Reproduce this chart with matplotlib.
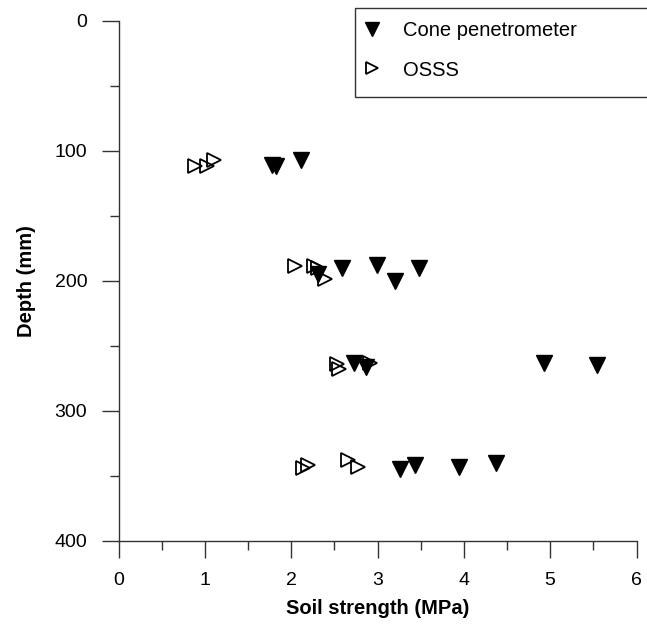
import matplotlib
matplotlib.use("Agg")
import matplotlib.pyplot as plt
from matplotlib.ticker import MultipleLocator
from matplotlib.lines import Line2D
from matplotlib.patches import Rectangle

plt.rcParams['font.family'] = ['Liberation Sans', 'DejaVu Sans']

# Cone penetrometer data (soil strength MPa, depth mm)
cone_x = [1.78, 1.82, 2.11,
          2.31, 2.59, 2.99, 3.20, 3.48,
          2.73, 2.87, 4.93, 5.54,
          3.26, 3.44, 3.94, 4.37]
cone_y = [111, 112, 107,
          195, 190, 188, 200, 190,
          263, 266, 263, 265,
          345, 342, 343, 340]

# OSSS data
osss_x = [0.89, 1.03, 1.11,
          2.04, 2.26, 2.31, 2.39,
          2.53, 2.55, 2.91,
          2.14, 2.19, 2.66, 2.77]
osss_y = [112, 112, 107,
          189, 189, 190, 199,
          264, 268, 263,
          344, 342, 338, 343]

x_ticks = [0, 1, 2, 3, 4, 5, 6]
y_ticks = [0, 100, 200, 300, 400]
series_labels = ['Cone penetrometer', 'OSSS']

W, H = 647, 626
fig = plt.figure(figsize=(W / 100, H / 100), dpi=100)
ax = fig.add_axes([118.5 / W, 1 - 540.7 / H, 518 / W, 520 / H])

ax.plot(osss_x, osss_y, linestyle='none', marker='>', markersize=10.5,
        markerfacecolor='none', markeredgecolor='black', markeredgewidth=1.3,
        zorder=3)
ax.plot(cone_x, cone_y, linestyle='none', marker='v', markersize=12,
        color='black', zorder=4)

ax.set_xlim(0, 6)
ax.set_ylim(400, 0)
ax.set_xticks(x_ticks)
ax.set_yticks(y_ticks)
ax.xaxis.set_minor_locator(MultipleLocator(0.5))
ax.yaxis.set_minor_locator(MultipleLocator(50))

for s in ['top', 'right']:
    ax.spines[s].set_visible(False)
for s in ['left', 'bottom']:
    ax.spines[s].set_color('#333333')
    ax.spines[s].set_linewidth(1.0)

ax.tick_params(axis='both', which='major', direction='out', length=12.5,
               width=1.0, color='#333333', labelsize=14)
ax.tick_params(axis='both', which='minor', direction='out', length=6.5,
               width=1.0, color='#333333')
ax.tick_params(axis='x', which='major', pad=10)
ax.tick_params(axis='y', which='major', pad=10)

ax.set_xlabel('Soil strength (MPa)', fontsize=14.5, fontweight='bold', labelpad=7)
ax.set_ylabel('Depth (mm)', fontsize=14.5, fontweight='bold', labelpad=13)

# Legend
handles = [
    Line2D([], [], linestyle='none', marker='v', markersize=10.5, color='black'),
    Line2D([], [], linestyle='none', marker='>', markersize=8.5,
           markerfacecolor='none', markeredgecolor='black', markeredgewidth=1.3),
]
leg = ax.legend(handles, series_labels, loc='upper left',
                bbox_to_anchor=(369 / W, 1 - 21 / H),
                bbox_transform=fig.transFigure,
                frameon=False, fontsize=14.5,
                borderpad=0, labelspacing=1.02, handletextpad=1.4,
                handlelength=0.3, borderaxespad=0)
fig.patches.append(Rectangle((355 / W, 1 - 97 / H), 300 / W, 89 / H,
                             transform=fig.transFigure, fill=False,
                             edgecolor='#333333', linewidth=1.0))

fig.savefig('out.png', dpi=100)
